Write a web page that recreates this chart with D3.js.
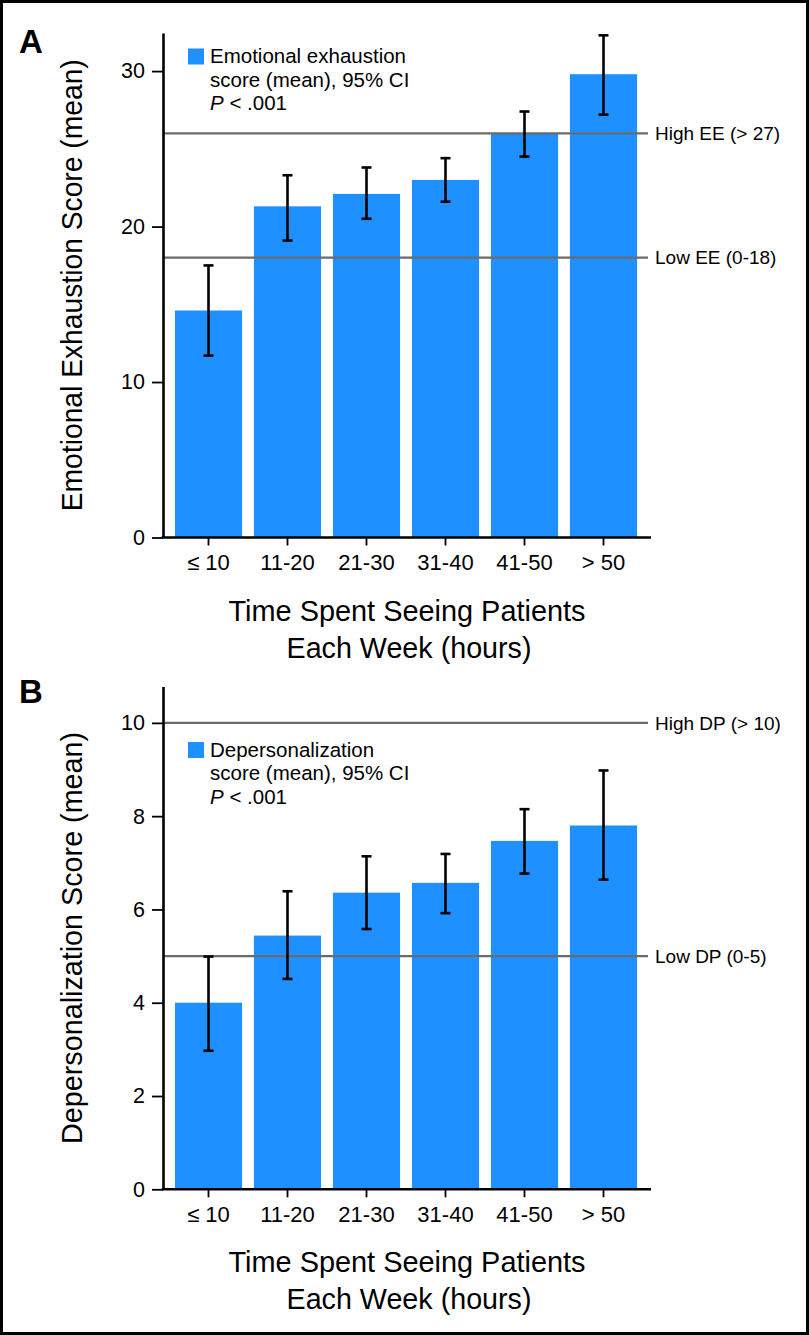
<!DOCTYPE html>
<html>
<head>
<meta charset="utf-8">
<script src="https://cdn.jsdelivr.net/npm/d3@7"></script>
<style>
  html, body { margin: 0; padding: 0; background: #fff; }
  svg { display: block; }
  text { font-family: "Liberation Sans", Arial, Helvetica, sans-serif; fill: #000; }
</style>
</head>
<body>
<script>
// ---- Data ----
const categories = ["≤ 10", "11-20", "21-30", "31-40", "41-50", "> 50"];

const eeMean = [14.6, 21.3, 22.1, 23.0, 26.0, 29.8];
const eeLow  = [11.7, 19.1, 20.5, 21.6, 24.5, 27.2];
const eeHigh = [17.5, 23.3, 23.8, 24.4, 27.4, 32.3];
const eeTicks = [0, 10, 20, 30];
const eeRefValues = [26, 18];
const eeRefLabels = ["High EE (> 27)", "Low EE (0-18)"];
const eeLegend = ["Emotional exhaustion", "score (mean), 95% CI"];

const dpMean = [4.0, 5.44, 6.36, 6.57, 7.47, 7.80];
const dpLow  = [2.97, 4.51, 5.58, 5.92, 6.77, 6.64];
const dpHigh = [4.99, 6.39, 7.14, 7.19, 8.15, 8.98];
const dpTicks = [0, 2, 4, 6, 8, 10];
const dpRefValues = [10, 5];
const dpRefLabels = ["High DP (> 10)", "Low DP (0-5)"];
const dpLegend = ["Depersonalization", "score (mean), 95% CI"];

const xTitle = ["Time Spent Seeing Patients", "Each Week (hours)"];

// ---- Layout ----
const W = 809, H = 1335;
const svg = d3.select("body").append("svg").attr("width", W).attr("height", H);

svg.append("rect").attr("x", 1.5).attr("y", 1.5).attr("width", W - 3).attr("height", H - 3)
  .attr("fill", "#fff").attr("stroke", "#000").attr("stroke-width", 3);

const axisX0 = 163, axisX1 = 651, refX1 = 648;
const x = d3.scaleBand().domain(categories).range([169, 643]).paddingInner(0.15).paddingOuter(0.075);

const BLUE = "#1E90FF";

function panel(opt) {
  const y = d3.scaleLinear().domain([0, opt.yMax]).range([opt.y0, opt.yTop]);
  const g = svg.append("g");

  // panel letter
  g.append("text").attr("x", 19).attr("y", opt.letterY).text(opt.letter)
    .style("font-size", "33px").style("font-weight", "bold");

  // bars
  g.selectAll("rect.bar").data(opt.mean).join("rect").attr("class", "bar")
    .attr("x", (d, i) => x(categories[i]))
    .attr("width", x.bandwidth())
    .attr("y", d => y(d))
    .attr("height", d => y(0) - y(d))
    .attr("fill", BLUE);

  // reference lines
  g.selectAll("line.ref").data(opt.refValues).join("line").attr("class", "ref")
    .attr("x1", axisX0).attr("x2", refX1)
    .attr("y1", d => y(d)).attr("y2", d => y(d))
    .attr("stroke", "#6b6b6b").attr("stroke-width", 2.2);
  g.selectAll("text.ref").data(opt.refValues).join("text").attr("class", "ref")
    .attr("x", 655).attr("y", d => y(d)).attr("dy", "0.36em")
    .text((d, i) => opt.refLabels[i])
    .style("font-size", "19px");

  // error bars
  const cap = 5;
  const eb = g.selectAll("g.eb").data(opt.mean).join("g").attr("class", "eb")
    .attr("stroke", "#000").attr("stroke-width", 2.6);
  eb.append("line")
    .attr("x1", (d, i) => x(categories[i]) + x.bandwidth() / 2)
    .attr("x2", (d, i) => x(categories[i]) + x.bandwidth() / 2)
    .attr("y1", (d, i) => y(opt.high[i])).attr("y2", (d, i) => y(opt.low[i]));
  eb.append("line")
    .attr("x1", (d, i) => x(categories[i]) + x.bandwidth() / 2 - cap)
    .attr("x2", (d, i) => x(categories[i]) + x.bandwidth() / 2 + cap)
    .attr("y1", (d, i) => y(opt.high[i])).attr("y2", (d, i) => y(opt.high[i]));
  eb.append("line")
    .attr("x1", (d, i) => x(categories[i]) + x.bandwidth() / 2 - cap)
    .attr("x2", (d, i) => x(categories[i]) + x.bandwidth() / 2 + cap)
    .attr("y1", (d, i) => y(opt.low[i])).attr("y2", (d, i) => y(opt.low[i]));

  // y axis
  const ya = g.append("g").attr("transform", `translate(${axisX0},0)`)
    .call(d3.axisLeft(y).tickValues(opt.ticks).tickFormat(d3.format("d")).tickSize(11).tickPadding(7).tickSizeOuter(0));
  ya.select(".domain").attr("stroke", "#000").attr("stroke-width", 2.6);
  ya.selectAll(".tick line").attr("stroke", "#000").attr("stroke-width", 1.8);
  ya.selectAll(".tick text").style("font-size", "21.5px").style("font-family", "Liberation Sans, Arial, sans-serif");

  // x axis
  const xa = g.append("g").attr("transform", `translate(0,${opt.y0})`)
    .call(d3.axisBottom(x).tickSize(8).tickPadding(9).tickSizeOuter(0));
  xa.select(".domain").remove();
  xa.selectAll(".tick line").attr("stroke", "#000").attr("stroke-width", 1.8);
  xa.selectAll(".tick text").style("font-size", "22px").style("font-family", "Liberation Sans, Arial, sans-serif");
  g.append("line").attr("x1", axisX0 - 1.3).attr("x2", axisX1)
    .attr("y1", opt.y0).attr("y2", opt.y0)
    .attr("stroke", "#000").attr("stroke-width", 2.6);

  // axis titles
  g.append("text").attr("x", 407).attr("y", opt.y0 + 83).attr("text-anchor", "middle")
    .text(xTitle[0]).style("font-size", "30px").attr("textLength", 357).attr("lengthAdjust", "spacingAndGlyphs");
  g.append("text").attr("x", 409).attr("y", opt.y0 + 120).attr("text-anchor", "middle")
    .text(xTitle[1]).style("font-size", "30px").attr("textLength", 245).attr("lengthAdjust", "spacingAndGlyphs");
  g.append("text")
    .attr("transform", `translate(82,${(opt.y0 + opt.yTop) / 2}) rotate(-90)`)
    .attr("text-anchor", "middle")
    .text(opt.yTitle).style("font-size", "30px")
    .attr("textLength", opt.yTitleLen).attr("lengthAdjust", "spacingAndGlyphs");

  // legend
  g.append("rect").attr("x", 188).attr("y", opt.legY - 14.5).attr("width", 16).attr("height", 16).attr("fill", BLUE);
  g.selectAll("text.leg").data(opt.legend).join("text").attr("class", "leg")
    .attr("x", 210).attr("y", (d, i) => opt.legY + i * 23.5)
    .text(d => d).style("font-size", "20.5px");
  const p = g.append("text").attr("x", 210).attr("y", opt.legY + 47).style("font-size", "20.5px");
  p.append("tspan").text("P").style("font-style", "italic");
  p.append("tspan").text(" < .001");
}

panel({
  letter: "A", letterY: 53,
  mean: eeMean, low: eeLow, high: eeHigh, ticks: eeTicks,
  refValues: eeRefValues, refLabels: eeRefLabels, legend: eeLegend,
  yMax: 32.45, y0: 537.5, yTop: 33,
  yTitle: "Emotional Exhaustion Score (mean)", yTitleLen: 452,
  legY: 63
});

panel({
  letter: "B", letterY: 703,
  mean: dpMean, low: dpLow, high: dpHigh, ticks: dpTicks,
  refValues: dpRefValues, refLabels: dpRefLabels, legend: dpLegend,
  yMax: 10.78, y0: 1189.3, yTop: 686.5,
  yTitle: "Depersonalization Score (mean)", yTitleLen: 412,
  legY: 756.5
});
</script>
</body>
</html>
